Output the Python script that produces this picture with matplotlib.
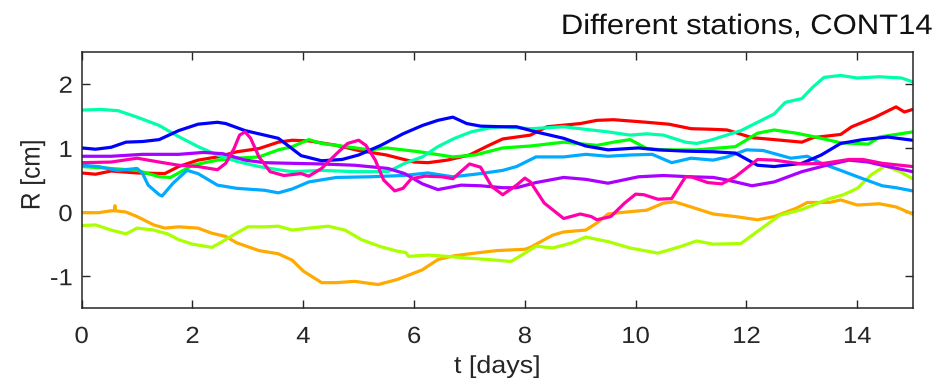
import numpy as np
import matplotlib
matplotlib.use("Agg")
import matplotlib.pyplot as plt
from matplotlib.colors import hsv_to_rgb
from matplotlib.patheffects import AbstractPathEffect
from matplotlib.transforms import Affine2D

plt.rcParams['font.family'] = ['Liberation Sans', 'DejaVu Sans']
plt.rcParams['axes.unicode_minus'] = False

# Station time series: time in days, R in cm
t_red = [0, 0.25, 0.53, 1.0, 1.5, 1.75, 2.1, 2.45, 2.8, 3.2, 3.55, 3.8, 4.1, 4.6, 5.0, 5.5, 6.0, 6.25, 6.6, 7.0,
         7.35, 7.6, 8.1, 8.4, 9.0, 9.3, 9.6, 10.2, 10.6, 11.0, 11.4, 11.65, 12.1, 12.5, 13.0, 13.2, 13.7, 13.9,
         14.3, 14.7, 14.85, 15.0]
r_red = [0.61, 0.59, 0.64, 0.61, 0.60, 0.71, 0.81, 0.86, 0.94, 0.99, 1.09, 1.12, 1.11, 1.04, 0.96, 0.89, 0.78, 0.77,
         0.81, 0.89, 1.04, 1.14, 1.20, 1.33, 1.38, 1.43, 1.44, 1.40, 1.37, 1.30, 1.29, 1.28, 1.16, 1.13, 1.09, 1.16,
         1.21, 1.33, 1.47, 1.64, 1.56, 1.60]

t_orange = [0, 0.3, 0.53, 0.59, 0.6, 0.61, 0.8, 1.0, 1.3, 1.5, 1.75, 2.1, 2.35, 2.6, 2.8, 3.2, 3.55, 3.8, 4.0, 4.33,
            4.6, 4.93, 5.35, 5.7, 6.15, 6.43, 6.73, 7.1, 7.5, 8.0, 8.1, 8.5, 8.7, 9.1, 9.3, 9.5, 9.7, 10.2, 10.5,
            10.7, 11.0, 11.4, 11.8, 12.2, 12.5, 12.9, 13.1, 13.5, 13.7, 14.0, 14.4, 14.7, 15.0]
r_orange = [-0.01, -0.01, 0.02, 0.02, 0.10, 0.02, 0.0, -0.07, -0.20, -0.25, -0.23, -0.25, -0.33, -0.38, -0.48,
            -0.60, -0.65, -0.75, -0.92, -1.10, -1.10, -1.08, -1.13, -1.05, -0.90, -0.74, -0.68, -0.64, -0.60, -0.58,
            -0.55, -0.36, -0.31, -0.28, -0.17, -0.03, -0.01, 0.03, 0.14, 0.16, 0.08, -0.03, -0.07, -0.12, -0.07,
            0.06, 0.15, 0.15, 0.19, 0.11, 0.13, 0.08, -0.03]

t_lime = [0, 0.25, 0.53, 0.8, 1.0, 1.3, 1.55, 1.75, 2.0, 2.35, 2.5, 2.75, 3.0, 3.3, 3.55, 3.8, 4.1, 4.45, 4.75,
          5.05, 5.4, 5.7, 5.85, 5.9, 6.25, 6.6, 7.0, 7.35, 7.75, 8.0, 8.2, 8.5, 8.85, 9.1, 9.5, 9.9, 10.4, 10.8,
          11.1, 11.4, 11.9, 12.2, 12.6, 13.0, 13.5, 13.75, 14.0, 14.25, 14.5, 14.75, 15.0]
r_lime = [-0.21, -0.20, -0.28, -0.34, -0.25, -0.28, -0.34, -0.43, -0.50, -0.55, -0.48, -0.35, -0.23, -0.23, -0.22,
          -0.28, -0.25, -0.22, -0.28, -0.43, -0.54, -0.61, -0.63, -0.69, -0.67, -0.69, -0.72, -0.74, -0.77, -0.64,
          -0.53, -0.56, -0.48, -0.39, -0.46, -0.56, -0.64, -0.54, -0.45, -0.50, -0.49, -0.30, -0.05, 0.04, 0.21,
          0.27, 0.37, 0.58, 0.72, 0.64, 0.52]

t_green = [0, 0.53, 1.0, 1.4, 1.6, 1.75, 2.0, 2.45, 2.8, 3.2, 3.55, 3.8, 4.1, 4.33, 4.6, 5.2, 5.5, 6.1, 6.7, 7.1,
           7.6, 8.1, 8.7, 9.3, 9.6, 9.9, 10.2, 10.5, 11.1, 11.8, 12.2, 12.5, 12.9, 13.3, 13.7, 14.2, 14.4, 14.7, 15.0]
r_green = [0.71, 0.68, 0.65, 0.55, 0.54, 0.61, 0.73, 0.81, 0.84, 0.86, 0.97, 1.02, 1.13, 1.07, 1.04, 0.97, 1.00,
           0.94, 0.86, 0.89, 1.00, 1.03, 1.09, 1.04, 1.09, 1.13, 0.99, 0.97, 0.97, 1.02, 1.23, 1.28, 1.23, 1.16,
           1.08, 1.06, 1.17, 1.21, 1.25]

t_aqua = [0, 0.35, 0.66, 1.0, 1.4, 1.7, 2.1, 2.45, 2.8, 3.2, 3.55, 3.8, 4.33, 4.93, 5.53, 5.83, 6.15, 6.43, 6.73,
          7.03, 7.35, 7.6, 8.1, 8.7, 9.0, 9.5, 9.9, 10.2, 10.5, 10.9, 11.1, 11.35, 11.9, 12.2, 12.5, 12.7, 13.0,
          13.2, 13.4, 13.7, 14.0, 14.4, 14.8, 15.0]
r_aqua = [1.59, 1.60, 1.58, 1.48, 1.35, 1.20, 1.02, 0.89, 0.79, 0.71, 0.66, 0.63, 0.65, 0.63, 0.63, 0.76, 0.86, 1.02,
          1.15, 1.25, 1.31, 1.33, 1.30, 1.33, 1.30, 1.25, 1.20, 1.22, 1.20, 1.09, 1.07, 1.12, 1.27, 1.40, 1.53, 1.71,
          1.77, 1.95, 2.10, 2.13, 2.09, 2.11, 2.09, 2.03]

t_sky = [0, 0.3, 0.65, 1.0, 1.1, 1.2, 1.4, 1.45, 1.65, 1.9, 2.1, 2.45, 2.8, 3.3, 3.55, 3.8, 4.1, 4.6, 5.2, 5.8,
         6.25, 6.7, 7.2, 7.6, 7.85, 8.2, 8.7, 9.1, 9.5, 9.9, 10.3, 10.65, 11.0, 11.4, 11.65, 12.0, 12.3, 12.8, 13.1,
         13.35, 13.7, 14.1, 14.45, 14.7, 15.0]
r_sky = [0.73, 0.71, 0.65, 0.68, 0.60, 0.42, 0.27, 0.25, 0.45, 0.65, 0.60, 0.42, 0.37, 0.34, 0.30, 0.36, 0.47, 0.54,
         0.55, 0.57, 0.61, 0.55, 0.60, 0.65, 0.71, 0.86, 0.86, 0.90, 0.87, 0.89, 0.90, 0.77, 0.84, 0.81, 0.86, 0.97,
         0.96, 0.84, 0.87, 0.76, 0.65, 0.52, 0.41, 0.38, 0.33]

t_blue = [0, 0.25, 0.53, 0.8, 1.1, 1.4, 1.75, 2.1, 2.45, 2.6, 2.95, 3.3, 3.55, 3.75, 3.96, 4.33, 4.7, 5.0, 5.4, 5.8,
          6.15, 6.43, 6.7, 6.95, 7.2, 7.6, 7.85, 8.2, 8.7, 9.1, 9.5, 10.05, 10.4, 10.9, 11.4, 11.8, 12.2, 12.5, 13.0,
          13.35, 13.7, 14.1, 14.55, 15.0]
r_blue = [1.00, 0.98, 1.01, 1.09, 1.10, 1.13, 1.27, 1.37, 1.40, 1.38, 1.27, 1.20, 1.15, 1.02, 0.88, 0.80, 0.82, 0.89,
          1.04, 1.22, 1.35, 1.43, 1.48, 1.38, 1.34, 1.33, 1.33, 1.25, 1.15, 1.03, 0.97, 1.00, 0.97, 0.95, 0.94, 0.92,
          0.73, 0.71, 0.76, 0.89, 1.07, 1.13, 1.17, 1.12]

t_violet = [0, 0.53, 1.1, 1.75, 2.2, 2.55, 2.95, 3.3, 3.8, 4.33, 4.93, 5.53, 5.83, 6.15, 6.43, 6.85, 7.2, 7.6, 7.85,
            8.2, 8.7, 9.1, 9.5, 10.05, 10.5, 11.0, 11.4, 11.65, 12.1, 12.5, 13.0, 13.4, 13.85, 14.2, 14.55, 15.0]
r_violet = [0.87, 0.87, 0.90, 0.90, 0.93, 0.91, 0.81, 0.77, 0.76, 0.75, 0.73, 0.68, 0.60, 0.44, 0.35, 0.42, 0.41,
            0.38, 0.38, 0.46, 0.54, 0.51, 0.45, 0.55, 0.57, 0.55, 0.54, 0.50, 0.41, 0.47, 0.63, 0.72, 0.81, 0.78,
            0.71, 0.63]

t_pink = [0, 0.53, 1.0, 1.4, 1.75, 2.1, 2.45, 2.6, 2.75, 2.85, 2.95, 3.05, 3.2, 3.4, 3.65, 3.96, 4.1, 4.33, 4.6,
          4.8, 5.0, 5.13, 5.3, 5.45, 5.65, 5.8, 5.95, 6.2, 6.5, 6.7, 7.0, 7.2, 7.4, 7.6, 7.85, 8.0, 8.1, 8.35, 8.7,
          9.0, 9.2, 9.3, 9.55, 9.8, 10.0, 10.15, 10.4, 10.65, 10.9, 11.0, 11.3, 11.55, 11.8, 12.2, 12.5, 13.0, 13.4,
          13.85, 14.1, 14.45, 15.0]
r_pink = [0.77, 0.78, 0.84, 0.78, 0.73, 0.71, 0.66, 0.76, 0.99, 1.20, 1.25, 1.15, 0.86, 0.63, 0.57, 0.60, 0.56,
          0.68, 0.91, 1.07, 1.12, 1.04, 0.81, 0.50, 0.33, 0.37, 0.52, 0.56, 0.55, 0.52, 0.75, 0.70, 0.40, 0.27, 0.42,
          0.53, 0.47, 0.14, -0.10, -0.03, -0.07, -0.12, -0.07, 0.14, 0.28, 0.27, 0.20, 0.21, 0.55, 0.55, 0.46, 0.44,
          0.55, 0.82, 0.81, 0.75, 0.76, 0.82, 0.82, 0.76, 0.71]

series = [(t_red, r_red), (t_orange, r_orange), (t_lime, r_lime), (t_green, r_green), (t_aqua, r_aqua),
          (t_sky, r_sky), (t_blue, r_blue), (t_violet, r_violet), (t_pink, r_pink)]

x_ticks = [0, 2, 4, 6, 8, 10, 12, 14]
y_ticks = [-1, 0, 1, 2]


class HStretch(AbstractPathEffect):
    """Draw text glyphs slightly widened horizontally about an anchor edge."""

    def __init__(self, sx=1.1, anchor='center'):
        super().__init__()
        self.sx = sx
        self.anchor = anchor

    def draw_path(self, renderer, gc, tpath, affine, rgbFace=None):
        ext = tpath.get_extents(affine)
        if self.anchor == 'right':
            x0 = ext.x1
        elif self.anchor == 'left':
            x0 = ext.x0
        else:
            x0 = 0.5 * (ext.x0 + ext.x1)
        wide = Affine2D().translate(-x0, 0).scale(self.sx, 1).translate(x0, 0)
        renderer.draw_path(gc, tpath, affine + wide, rgbFace)


SX = 1.1
ink = '#262626'

fig = plt.figure(figsize=(9.51, 3.78), dpi=100)
ax = fig.add_axes([0.0859, 0.1844, 0.8738, 0.6788])

# hsv colormap, one hue per station
n = len(series)
for i, (t, r) in enumerate(series):
    color = hsv_to_rgb((i / n, 1.0, 1.0))
    ax.plot(t, r, color=color, lw=2.3, solid_capstyle='round', solid_joinstyle='round')

ax.set_xlim(0, 15)
ax.set_ylim(-1.5, 2.5)
ax.set_xticks(x_ticks)
ax.set_yticks(y_ticks)
ax.tick_params(direction='in', length=6, width=1, colors=ink, labelsize=16.8,
               top=True, right=True, labelcolor=ink)
ax.tick_params(axis='x', pad=12)
ax.tick_params(axis='y', pad=6.5)
for sp in ax.spines.values():
    sp.set_color(ink)
    sp.set_linewidth(1.1)

for tk in ax.xaxis.get_major_ticks():
    tk.label1.set_path_effects([HStretch(SX, 'center')])
for tk in ax.yaxis.get_major_ticks():
    tk.label1.set_path_effects([HStretch(SX, 'right')])

xl = ax.set_xlabel('t [days]', fontsize=17.6, color=ink, va='baseline')
ax.xaxis.set_label_coords(0.5, -0.252)
xl.set_path_effects([HStretch(SX, 'center')])

yl = ax.set_ylabel('R [cm]', fontsize=17.6, color=ink)
ax.yaxis.set_label_coords(-0.0454, 0.52)
yl.set_path_effects([HStretch(SX, 'center')])

title = fig.text(0.981, 0.910, 'Different stations, CONT14', ha='right', va='baseline',
                 fontsize=20.3, color='#111111')
title.set_path_effects([HStretch(SX, 'right')])

fig.savefig('out.png', dpi=100)
